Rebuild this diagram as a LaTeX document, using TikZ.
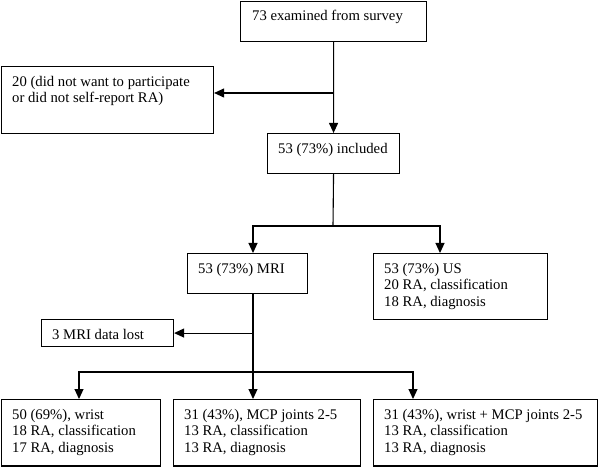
\documentclass[tikz,border=0pt]{standalone}
\usepackage{fontspec}
\setmainfont{Liberation Serif}
\usetikzlibrary{arrows.meta}
\tikzset{
  box/.style={draw, line width=1.1bp, inner sep=0pt, anchor=north west},
  txt/.style={inner sep=0pt, anchor=north west, align=left,
    font=\fontsize{14.7bp}{16.7bp}\selectfont},
  conn/.style={line width=1.1bp},
  arr/.style={line width=1.1bp, -{Triangle[length=10bp,width=9bp]}}
}
\begin{document}
\begin{tikzpicture}[x=1bp,y=-1bp]
\useasboundingbox (0,0) rectangle (600,467);
% boxes
\node[box, minimum width=186bp, minimum height=40bp] (b1) at (240,0.6) {};
\node[box, minimum width=212.4bp, minimum height=67bp] (b2) at (0.6,66) {};
\node[box, minimum width=132bp, minimum height=40bp] (b3) at (267,133) {};
\node[box, minimum width=120bp, minimum height=40bp] (mri) at (187,253) {};
\node[box, minimum width=174bp, minimum height=66bp] (us) at (373,253) {};
\node[box, minimum width=132bp, minimum height=27bp] (lost) at (41,319) {};
\node[box, minimum width=159.4bp, minimum height=66.4bp] (ba) at (0.6,399) {};
\node[box, minimum width=187bp, minimum height=66.4bp] (bb) at (173,399) {};
\node[box, minimum width=223.8bp, minimum height=66.4bp] (bc) at (373,399) {};
% texts
\node[txt] (b1t) at ([shift={(12bp,-8.3bp)}]b1.north west) {\strut 73 examined from survey};
\node[txt] (b2t) at ([shift={(11.4bp,-8.3bp)}]b2.north west) {\strut 20 (did not want to participate\\or did not self-report RA)};
\node[txt] (b3t) at ([shift={(11bp,-8.3bp)}]b3.north west) {\strut 53 (73\%) included};
\node[txt] (mrit) at ([shift={(11bp,-8.3bp)}]mri.north west) {\strut 53 (73\%) MRI};
\node[txt] (ust) at ([shift={(11bp,-8.3bp)}]us.north west) {\strut 53 (73\%) US\\20 RA, classification\\18 RA, diagnosis};
\node[txt] (lostt) at ([shift={(11bp,-8.3bp)}]lost.north west) {\strut 3 MRI data lost};
\node[txt] (bat) at ([shift={(11.4bp,-8.3bp)}]ba.north west) {\strut 50 (69\%), wrist\\18 RA, classification\\17 RA, diagnosis};
\node[txt] (bbt) at ([shift={(11bp,-8.3bp)}]bb.north west) {\strut 31 (43\%), MCP joints 2-5\\13 RA, classification\\13 RA, diagnosis};
\node[txt] (bct) at ([shift={(11bp,-8.3bp)}]bc.north west) {\strut 31 (43\%), wrist + MCP joints 2-5\\13 RA, classification\\13 RA, diagnosis};
% junctions
\coordinate (j1) at (333,93);
\coordinate (j2) at (333,226);
\coordinate (cL) at (253,226);
\coordinate (cR) at (440,226);
\coordinate (j3) at (253,372);
\coordinate (j4) at (79,372);
\coordinate (j5) at (413,372);
% connectors
\draw[arr] (b1.south) -- (b3.north);
\draw[arr] (j1) -- (j1 -| b2.east);
\draw[conn] (b3.south) -- (j2);
\draw[arr] (j2) -- (cL) -- (cL |- mri.north);
\draw[arr] (j2) -- (cR) -- (cR |- us.north);
\draw[conn] (cL |- mri.south) -- (j3);
\draw[arr] (cL |- lost.east) -- (lost.east);
\draw[arr] (j3) -- (j3 |- bb.north);
\draw[arr] (j3) -- (j4) -- (j4 |- ba.north);
\draw[arr] (j3) -- (j5) -- (j5 |- bc.north);
\end{tikzpicture}
\end{document}
